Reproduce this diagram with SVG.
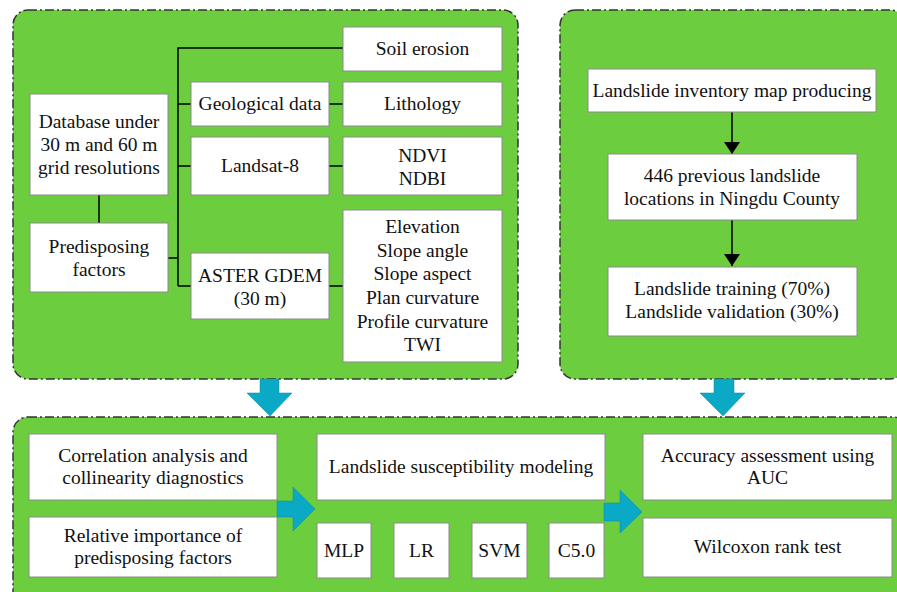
<svg xmlns="http://www.w3.org/2000/svg" width="897" height="592" viewBox="0 0 897 592">
<defs>
<style>
.panel{fill:#6ccd3f;stroke:#333;stroke-width:1.5;stroke-dasharray:9 3 2 3}
.box{fill:#fff;stroke:#8a8a8a;stroke-width:1}
.ln{fill:none;stroke:#000;stroke-width:1.5}
.t{font-family:'Liberation Serif','Times New Roman',serif;font-size:19.5px;fill:#111;text-anchor:middle}
.big{fill:#0aa9c6;stroke:#0a8aa0;stroke-width:0.5}
</style>
<marker id="ah" viewBox="0 0 12 16" refX="12" refY="8" markerWidth="12" markerHeight="16" markerUnits="userSpaceOnUse" orient="auto">
<path d="M0,0 L12,8 L0,16 Z" fill="#000"/>
</marker>
</defs>
<rect width="897" height="592" fill="#fff"/>
<g id="panels">
<rect class="panel" x="13" y="10" width="505" height="369" rx="15"/>
<rect class="panel" x="560" y="10" width="345" height="369" rx="15"/>
<rect class="panel" x="13" y="417" width="895" height="190" rx="15"/>
</g>
<g id="connectors">
<path class="ln" d="M99,195 V223"/>
<path class="ln" d="M168,258 H178"/>
<path class="ln" d="M178,286 V48 H343"/>
<path class="ln" d="M178,104 H191"/>
<path class="ln" d="M178,166 H191"/>
<path class="ln" d="M178,286 H191"/>
<path class="ln" d="M329,104 H343"/>
<path class="ln" d="M329,166 H343"/>
<path class="ln" d="M329,286 H343"/>
<path class="ln" d="M732,112 V154" marker-end="url(#ah)"/>
<path class="ln" d="M732,220 V266" marker-end="url(#ah)"/>
<path class="big" d="M260,379 H279 V393 H292 L270,416 L247,393 H260 Z"/>
<path class="big" d="M714,379 H734 V393 H745 L723,416 L700,393 H714 Z"/>
<path class="big" d="M277,501 H293 V487 L315,509 L293,531 V517 H277 Z"/>
<path class="big" d="M604,503 H620 V490 L642,512 L620,533 V521 H604 Z"/>
</g>
<g font-family="'Liberation Serif', 'Times New Roman', serif">
<g id="database"><rect class="box" x="30" y="94" width="138" height="101"/>
<text class="t" x="99" y="128">Database under</text><text class="t" x="99" y="151">30 m and 60 m</text><text class="t" x="99" y="174">grid resolutions</text></g>
<g id="predisposing"><rect class="box" x="30" y="223" width="138" height="69"/>
<text class="t" x="99" y="253">Predisposing</text><text class="t" x="99" y="276">factors</text></g>
<g id="geological"><rect class="box" x="191" y="82" width="138" height="44"/>
<text class="t" x="260" y="110">Geological data</text></g>
<g id="landsat"><rect class="box" x="191" y="137" width="138" height="58"/>
<text class="t" x="260" y="172">Landsat-8</text></g>
<g id="aster"><rect class="box" x="191" y="253" width="138" height="66"/>
<text class="t" x="260" y="282">ASTER GDEM</text><text class="t" x="260" y="305">(30 m)</text></g>
<g id="soil"><rect class="box" x="343" y="27" width="159" height="44"/>
<text class="t" x="422.5" y="55">Soil erosion</text></g>
<g id="lithology"><rect class="box" x="343" y="82" width="159" height="44"/>
<text class="t" x="422.5" y="110">Lithology</text></g>
<g id="ndvi"><rect class="box" x="343" y="137" width="159" height="58"/>
<text class="t" x="422.5" y="162">NDVI</text><text class="t" x="422.5" y="185">NDBI</text></g>
<g id="topo"><rect class="box" x="343" y="210" width="159" height="152"/>
<text class="t" x="422.5" y="233">Elevation</text><text class="t" x="422.5" y="256.5">Slope angle</text><text class="t" x="422.5" y="280">Slope aspect</text><text class="t" x="422.5" y="303.5">Plan curvature</text><text class="t" x="422.5" y="327.5">Profile curvature</text><text class="t" x="422.5" y="351">TWI</text></g>
<g id="inventory"><rect class="box" x="588" y="69" width="288" height="43"/>
<text class="t" x="732" y="97">Landslide inventory map producing</text></g>
<g id="previous"><rect class="box" x="608" y="154" width="249" height="66"/>
<text class="t" x="732" y="182">446 previous landslide</text><text class="t" x="732" y="205">locations in Ningdu County</text></g>
<g id="training"><rect class="box" x="608" y="267" width="249" height="69"/>
<text class="t" x="732" y="295">Landslide training (70%)</text><text class="t" x="732" y="318">Landslide validation (30%)</text></g>
<g id="correlation"><rect class="box" x="29" y="434" width="248" height="66"/>
<text class="t" x="153" y="462">Correlation analysis and</text><text class="t" x="153" y="484">collinearity diagnostics</text></g>
<g id="importance"><rect class="box" x="29" y="517" width="248" height="60"/>
<text class="t" x="153" y="542">Relative importance of</text><text class="t" x="153" y="564">predisposing factors</text></g>
<g id="modeling"><rect class="box" x="317" y="434" width="288" height="66"/>
<text class="t" x="461" y="473">Landslide susceptibility modeling</text></g>
<g id="mlp"><rect class="box" x="317" y="523" width="54" height="55"/><text class="t" x="344" y="557">MLP</text></g>
<g id="lr"><rect class="box" x="394" y="523" width="55" height="55"/><text class="t" x="421.5" y="557">LR</text></g>
<g id="svm"><rect class="box" x="472" y="523" width="55" height="55"/><text class="t" x="499.5" y="557">SVM</text></g>
<g id="c50"><rect class="box" x="549" y="523" width="55" height="55"/><text class="t" x="576.5" y="557">C5.0</text></g>
<g id="accuracy"><rect class="box" x="643" y="434" width="249" height="66"/>
<text class="t" x="767.5" y="462">Accuracy assessment using</text><text class="t" x="767.5" y="484">AUC</text></g>
<g id="wilcoxon"><rect class="box" x="643" y="518" width="249" height="59"/>
<text class="t" x="767.5" y="553">Wilcoxon rank test</text></g>
</g>
</svg>
